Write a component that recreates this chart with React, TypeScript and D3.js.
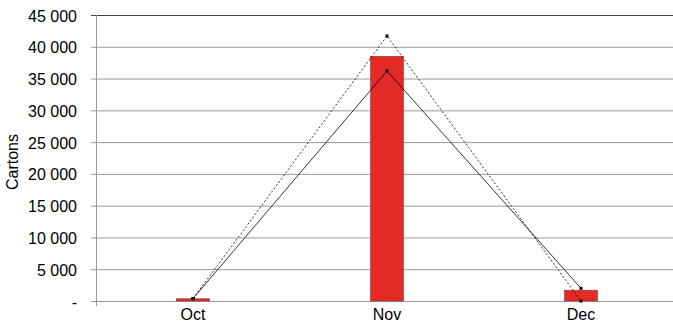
import React from "react";
import * as d3 from "d3";

const categories = ["Oct", "Nov", "Dec"];
const barValues = [350, 38500, 1700];
const solidValues = [380, 36200, 2000];
const dashedValues = [380, 41700, 0];
const yTicks = [0, 5000, 10000, 15000, 20000, 25000, 30000, 35000, 40000, 45000];

const W = 673;
const H = 324;
const left = 96;
const right = 678;
const top = 15;
const bottom = 301;

export default function App() {
  const x = d3.scaleBand<string>().domain(categories).range([left, right]).paddingInner(0.83).paddingOuter(0.415);
  const xc = (c: string) => (x(c) as number) + x.bandwidth() / 2;
  const y = d3.scaleLinear().domain([0, 45000]).range([bottom, top]);
  const fmt = (v: number) => (v === 0 ? "-" : d3.format(",")(v).replace(/,/g, " "));
  const line = d3
    .line<number>()
    .x((_, i) => xc(categories[i]))
    .y((d) => y(d));
  const font = "'Liberation Sans', Arial, sans-serif";
  return (
    <div style={{ position: "fixed", left: 0, top: 0 }}>
      <svg width={W} height={H} style={{ display: "block" }} fontFamily={font}>
        <rect width={W} height={H} fill="#fff" />
        {yTicks.map((t) => (
          <g key={t}>
            <line
              x1={left - 5}
              x2={right}
              y1={y(t) + 0.5}
              y2={y(t) + 0.5}
              stroke={t === 45000 ? "#444" : "#9a9a9a"}
              strokeWidth={1}
            />
            <text x={77} y={y(t) + 1} dy="0.35em" textAnchor="end" fontSize={16} fill="#000">
              {fmt(t)}
            </text>
          </g>
        ))}
        <line x1={left + 0.5} x2={left + 0.5} y1={top} y2={bottom + 5} stroke="#9a9a9a" />
        <text
          transform={`translate(18,${162}) rotate(-90)`}
          textAnchor="middle"
          fontSize={16}
          fill="#000"
        >
          Cartons
        </text>
        {categories.map((c, i) => (
          <g key={c}>
            <rect
              x={x(c)}
              y={y(barValues[i])}
              width={x.bandwidth()}
              height={bottom - y(barValues[i])}
              fill="#e42a27"
              stroke="#8a3a30"
              strokeWidth={0.6}
            />
            <text x={xc(c)} y={320} textAnchor="middle" fontSize={16} fill="#000">
              {c}
            </text>
          </g>
        ))}
        <path d={line(dashedValues) || ""} fill="none" stroke="#000" strokeWidth={0.8} strokeDasharray="2,2" />
        <path d={line(solidValues) || ""} fill="none" stroke="#000" strokeWidth={0.8} />
        {[dashedValues, solidValues].map((vals, s) =>
          vals.map((v, i) => (
            <rect key={`${s}-${i}`} x={xc(categories[i]) - 1.5} y={y(v) - 1.5} width={3} height={3} fill="#000" />
          ))
        )}
      </svg>
    </div>
  );
}
